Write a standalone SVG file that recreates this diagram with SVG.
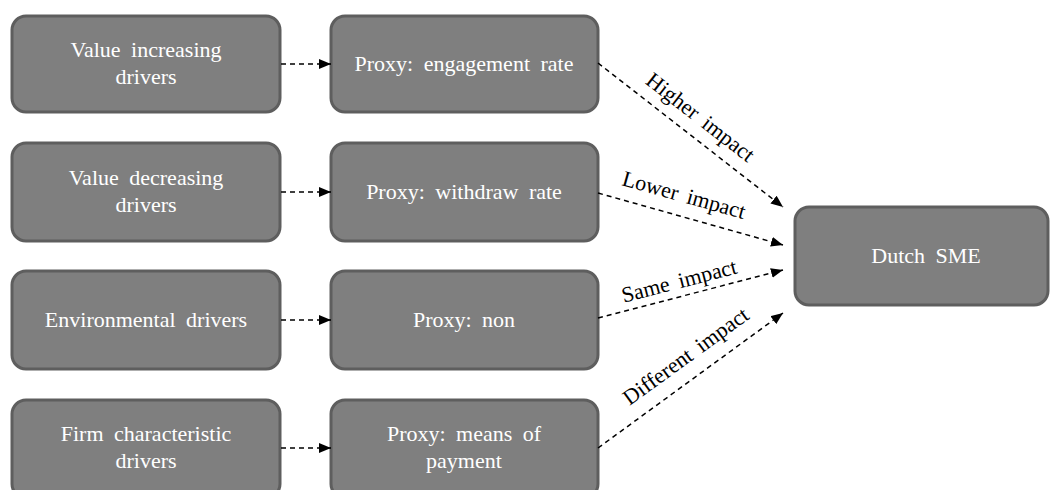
<svg xmlns="http://www.w3.org/2000/svg" width="1052" height="490" viewBox="0 0 1052 490">
  <defs>
    <marker id="arrow" viewBox="0 0 12 10" refX="12" refY="5" markerWidth="12" markerHeight="10" markerUnits="userSpaceOnUse" orient="auto">
      <path d="M0,0 L12,5 L0,10 Z" fill="#000"/>
    </marker>
    <style>
      .box { fill: #7f7f7f; stroke: #5e5e5e; stroke-width: 3; }
      text { font-family: "Liberation Serif", "DejaVu Serif", "Times New Roman", serif; }
      .lbl { font-size: 22px; fill: #ffffff; text-anchor: middle; word-spacing: 5px; }
      .edge { fill: none; stroke: #000; stroke-width: 1.5; stroke-dasharray: 5 4; marker-end: url(#arrow); }
      .elbl { font-size: 22px; fill: #000; text-anchor: middle; word-spacing: 4px; }
    </style>
  </defs>

  <rect width="1052" height="490" fill="#ffffff"/>

  <!-- driver nodes -->
  <g id="value-increasing">
    <rect class="box" x="12" y="16" width="268" height="96" rx="14"/>
    <text class="lbl" x="146" y="57">Value increasing</text>
    <text class="lbl" x="146" y="84">drivers</text>
  </g>
  <g id="value-decreasing">
    <rect class="box" x="12" y="143" width="268" height="98" rx="14"/>
    <text class="lbl" x="146" y="185">Value decreasing</text>
    <text class="lbl" x="146" y="212">drivers</text>
  </g>
  <g id="environmental">
    <rect class="box" x="12" y="271" width="268" height="98" rx="14"/>
    <text class="lbl" x="146" y="327">Environmental drivers</text>
  </g>
  <g id="firm-characteristic">
    <rect class="box" x="12" y="400" width="268" height="98" rx="14"/>
    <text class="lbl" x="146" y="441">Firm characteristic</text>
    <text class="lbl" x="146" y="468">drivers</text>
  </g>

  <!-- proxy nodes -->
  <g id="proxy-engagement">
    <rect class="box" x="331" y="16" width="267" height="96" rx="14"/>
    <text class="lbl" x="464" y="71">Proxy: engagement rate</text>
  </g>
  <g id="proxy-withdraw">
    <rect class="box" x="331" y="143" width="267" height="98" rx="14"/>
    <text class="lbl" x="464" y="199">Proxy: withdraw rate</text>
  </g>
  <g id="proxy-non">
    <rect class="box" x="331" y="271" width="267" height="98" rx="14"/>
    <text class="lbl" x="464" y="327">Proxy: non</text>
  </g>
  <g id="proxy-payment">
    <rect class="box" x="331" y="400" width="267" height="98" rx="14"/>
    <text class="lbl" x="464" y="441">Proxy: means of</text>
    <text class="lbl" x="464" y="468">payment</text>
  </g>

  <!-- target node -->
  <g id="dutch-sme">
    <rect class="box" x="795" y="207" width="253" height="98" rx="14"/>
    <text class="lbl" x="926" y="263">Dutch SME</text>
  </g>

  <!-- connectors -->
  <g id="connectors">
    <line class="edge" x1="281" y1="64" x2="331" y2="64"/>
    <line class="edge" x1="281" y1="192" x2="331" y2="192"/>
    <line class="edge" x1="281" y1="320" x2="331" y2="320"/>
    <line class="edge" x1="281" y1="448" x2="331" y2="448"/>

    <line class="edge" x1="598" y1="63" x2="783" y2="207"/>
    <line class="edge" x1="598" y1="193" x2="783" y2="245"/>
    <line class="edge" x1="598" y1="318" x2="783" y2="270"/>
    <line class="edge" x1="598" y1="448" x2="783" y2="313"/>

    <text class="elbl" transform="translate(696,123) rotate(37.7)">Higher impact</text>
    <text class="elbl" transform="translate(682,202) rotate(15.6)">Lower impact</text>
    <text class="elbl" transform="translate(681,288) rotate(-14.5)">Same impact</text>
    <text class="elbl" transform="translate(690,362) rotate(-36)">Different impact</text>
  </g>
</svg>
